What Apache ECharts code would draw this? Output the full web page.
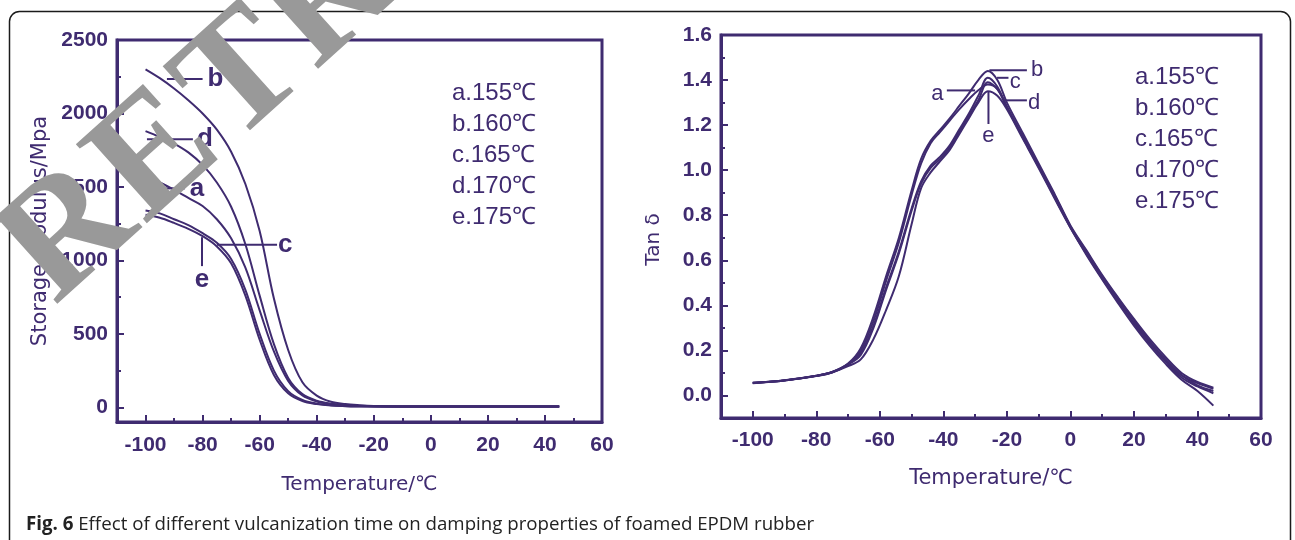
<!DOCTYPE html>
<html lang="en">
<head>
<meta charset="UTF-8">
<title>Fig. 6</title>
<script src="https://cdn.jsdelivr.net/npm/echarts@6/dist/echarts.min.js"></script>
<style>
    html, body { margin: 0; padding: 0; background: #fff; }
    #main { width: 1295px; height: 540px; }
</style>
</head>
<body>
<div id="main"></div>
<script>
    var purple = '#3f2b70';

    // storage modulus (left panel)
    var tempL = [-100, -95, -90, -85, -80, -75, -70, -65, -60, -55, -50, -45, -40, -35, -30, -25, -20, -10, 0, 10, 20, 30, 45];
    var modA = [1560, 1530, 1480, 1425, 1370, 1280, 1150, 950, 660, 380, 180, 80, 40, 22, 13, 9, 7, 5, 5, 5, 5, 5, 5];
    var modB = [2300, 2240, 2170, 2090, 2000, 1890, 1740, 1520, 1200, 740, 390, 170, 80, 38, 22, 14, 9, 6, 5, 5, 5, 5, 5];
    var modC = [1340, 1320, 1280, 1240, 1185, 1120, 1010, 800, 500, 250, 110, 50, 25, 14, 9, 7, 6, 5, 5, 5, 5, 5, 5];
    var modD = [1880, 1840, 1795, 1735, 1650, 1530, 1365, 1110, 760, 430, 200, 90, 45, 25, 15, 10, 7, 5, 5, 5, 5, 5, 5];
    var modE = [1310, 1290, 1255, 1215, 1165, 1095, 980, 760, 460, 220, 95, 42, 22, 12, 8, 6, 5, 5, 5, 5, 5, 5, 5];

    // tan delta (right panel)
    var tempR = [-100, -90, -80, -75, -70, -66, -62, -58, -54, -50, -47, -44, -41, -38, -35, -32, -29, -26, -23, -20, -15, -10, -5, 0, 5, 10, 15, 20, 25, 30, 35, 40, 45];
    var tanA = [0.055, 0.066, 0.087, 0.104, 0.14, 0.20, 0.33, 0.51, 0.68, 0.89, 1.03, 1.12, 1.17, 1.22, 1.27, 1.315, 1.355, 1.38, 1.36, 1.28, 1.15, 1.02, 0.89, 0.75, 0.64, 0.53, 0.43, 0.335, 0.24, 0.16, 0.09, 0.055, 0.03];
    var tanB = [0.056, 0.067, 0.088, 0.105, 0.142, 0.21, 0.35, 0.53, 0.70, 0.91, 1.05, 1.13, 1.18, 1.23, 1.285, 1.34, 1.40, 1.44, 1.40, 1.30, 1.165, 1.03, 0.895, 0.755, 0.645, 0.535, 0.435, 0.34, 0.25, 0.17, 0.10, 0.06, 0.035];
    var tanC = [0.054, 0.066, 0.086, 0.102, 0.138, 0.19, 0.31, 0.48, 0.64, 0.83, 0.95, 1.02, 1.06, 1.11, 1.18, 1.25, 1.33, 1.41, 1.37, 1.28, 1.15, 1.02, 0.885, 0.75, 0.63, 0.52, 0.42, 0.32, 0.23, 0.15, 0.08, 0.04, 0.01];
    var tanD = [0.055, 0.067, 0.087, 0.103, 0.137, 0.18, 0.30, 0.47, 0.63, 0.82, 0.94, 1.01, 1.05, 1.10, 1.17, 1.24, 1.31, 1.39, 1.36, 1.28, 1.145, 1.015, 0.88, 0.745, 0.625, 0.515, 0.41, 0.31, 0.22, 0.14, 0.07, 0.02, -0.045];
    var tanE = [0.056, 0.068, 0.088, 0.103, 0.13, 0.16, 0.25, 0.38, 0.53, 0.76, 0.92, 0.99, 1.04, 1.09, 1.16, 1.23, 1.30, 1.35, 1.33, 1.27, 1.14, 1.01, 0.875, 0.745, 0.63, 0.52, 0.42, 0.325, 0.235, 0.155, 0.09, 0.045, 0.02];

    // ticks
    var xMajor = [-100, -80, -60, -40, -20, 0, 20, 40, 60];
    var xMinor = [-90, -70, -50, -30, -10, 10, 30, 50];
    var modMajor = [0, 500, 1000, 1500, 2000, 2500];
    var modMinor = [250, 750, 1250, 1750, 2250];
    var tanMajor = [0, 0.2, 0.4, 0.6, 0.8, 1.0, 1.2, 1.4, 1.6];
    var tanMinor = [0.1, 0.3, 0.5, 0.7, 0.9, 1.1, 1.3, 1.5];

    var names = ['a', 'b', 'c', 'd', 'e'];
    var legendLabels = ['a.155℃', 'b.160℃', 'c.165℃', 'd.170℃', 'e.175℃'];

    // curve tags: short leader line + letter, in data units
    var tagsL = [
        {t: 'b', from: [-92.5, 2235], to: [-80, 2235], at: [-75.5, 2235]},
        {t: 'd', from: [-99.5, 1825], to: [-83.4, 1825], at: [-79.2, 1825]},
        {t: 'a', from: [-94.9, 1490], to: [-86.2, 1490], at: [-82, 1490]},
        {t: 'c', from: [-75, 1107], to: [-53.9, 1107], at: [-51, 1107]},
        {t: 'e', from: [-80.2, 1158], to: [-80.2, 961], at: [-80.2, 871]}
    ];
    var tagsR = [
        {t: 'b', from: [-25.5, 1.443], to: [-13.7, 1.443], at: [-10.5, 1.443]},
        {t: 'c', from: [-23.1, 1.41], to: [-19.5, 1.41], at: [-17.4, 1.39]},
        {t: 'a', from: [-38.9, 1.354], to: [-30, 1.354], at: [-41.9, 1.34]},
        {t: 'd', from: [-21, 1.31], to: [-13.7, 1.31], at: [-11.4, 1.30]},
        {t: 'e', from: [-25.8, 1.347], to: [-25.8, 1.205], at: [-25.8, 1.15]}
    ];

    var tickFont = {color: purple, fontSize: 21, fontWeight: 'bold', fontFamily: 'Liberation Sans, Arial, sans-serif'};
    var nameFont = {color: purple, fontSize: 20, fontFamily: 'DejaVu Sans, sans-serif'};

    function majorAxis(grid, min, max, ticks, pos, extra) {
        var ax = {
            type: 'value', gridIndex: grid, min: min, max: max, position: pos,
            axisLine: {show: true, onZero: false, lineStyle: {color: purple, width: 3}},
            axisTick: {show: true, inside: true, length: 7, customValues: ticks, lineStyle: {color: purple, width: 2}},
            axisLabel: Object.assign({customValues: ticks}, tickFont),
            splitLine: {show: false}
        };
        return Object.assign(ax, extra);
    }
    function minorAxis(grid, min, max, ticks, pos) {
        return {
            type: 'value', gridIndex: grid, min: min, max: max, position: pos,
            axisLine: {show: false, onZero: false},
            axisTick: {show: true, inside: true, length: 4, customValues: ticks, lineStyle: {color: purple, width: 2}},
            axisLabel: {show: false},
            splitLine: {show: false}
        };
    }
    function pairs(xs, ys) {
        return xs.map(function (x, i) { return [x, ys[i]]; });
    }
    function curve(name, xs, ys, axisIdx) {
        return {
            name: name, type: 'line', xAxisIndex: axisIdx, yAxisIndex: axisIdx,
            data: pairs(xs, ys), showSymbol: false, smooth: 0.35,
            lineStyle: {color: purple, width: 2}, silent: true
        };
    }

    var modSeries = [modA, modB, modC, modD, modE];
    var tanSeries = [tanA, tanB, tanC, tanD, tanE];
    var series = [];
    names.forEach(function (n, i) { series.push(curve(n, tempL, modSeries[i], 0)); });
    names.forEach(function (n, i) { series.push(curve(n, tempR, tanSeries[i], 2)); });

    var myChart = echarts.init(document.getElementById('main'));
    var option = {
        animation: false,
        grid: [
            {left: 117, top: 40, width: 485, height: 382, show: true, borderColor: purple, borderWidth: 3, outerBoundsMode: 'none'},
            {left: 721, top: 35, width: 540, height: 383, show: true, borderColor: purple, borderWidth: 3, outerBoundsMode: 'none'}
        ],
        xAxis: [
            majorAxis(0, -110, 60, xMajor, 'bottom', {
                name: 'Temperature/℃', nameLocation: 'middle', nameGap: 53, nameTextStyle: nameFont,
                axisLabel: Object.assign({customValues: xMajor, margin: 13}, tickFont)
            }),
            minorAxis(0, -110, 60, xMinor, 'bottom'),
            majorAxis(1, -110, 60, xMajor, 'bottom', {
                name: 'Temperature/℃', nameLocation: 'middle', nameGap: 50,
                nameTextStyle: Object.assign({}, nameFont, {fontSize: 21}),
                axisLabel: Object.assign({customValues: xMajor, margin: 12}, tickFont)
            }),
            minorAxis(1, -110, 60, xMinor, 'bottom')
        ],
        yAxis: [
            majorAxis(0, -100, 2500, modMajor, 'left', {
                name: 'Storage modulus/Mpa', nameLocation: 'middle', nameGap: 66,
                nameTextStyle: Object.assign({}, nameFont, {fontSize: 21}),
                axisLabel: Object.assign({customValues: modMajor, margin: 9, formatter: function (v) { return String(v); }}, tickFont)
            }),
            minorAxis(0, -100, 2500, modMinor, 'left'),
            majorAxis(1, -0.1, 1.6, tanMajor, 'left', {
                name: 'Tan δ', nameLocation: 'middle', nameGap: 57,
                nameTextStyle: Object.assign({}, nameFont, {padding: [0, 0, 0, -26]}),
                axisLabel: Object.assign({customValues: tanMajor, margin: 9, formatter: function (v) { return v.toFixed(1); }}, tickFont)
            }),
            minorAxis(1, -0.1, 1.6, tanMinor, 'left')
        ],
        series: series
    };
    myChart.setOption(option);

    // decorations: legend text, curve tags, caption, frame, watermark
    var g = [];
    function toPx(idx, p) { return myChart.convertToPixel({xAxisIndex: idx, yAxisIndex: idx}, p); }
    function addTags(tags, idx, font) {
        tags.forEach(function (tg) {
            var a = toPx(idx, tg.from), b = toPx(idx, tg.to), c = toPx(idx, tg.at);
            g.push({type: 'line', shape: {x1: a[0], y1: a[1], x2: b[0], y2: b[1]}, style: {stroke: purple, lineWidth: 2}, z: 50});
            g.push({type: 'text', x: c[0], y: c[1], style: {text: tg.t, font: font, fill: purple, align: 'center', verticalAlign: 'middle'}, z: 50});
        });
    }
    addTags(tagsL, 0, 'bold 26px "Liberation Sans", Arial, sans-serif');
    addTags(tagsR, 2, '22px "Liberation Sans", Arial, sans-serif');

    legendLabels.forEach(function (s, i) {
        g.push({type: 'text', x: 452, y: 93 + i * 31, style: {text: s, font: '24px "Liberation Sans", Arial, sans-serif', fill: purple, verticalAlign: 'middle'}, z: 50});
        g.push({type: 'text', x: 1135, y: 77 + i * 31.2, style: {text: s, font: '24px "Liberation Sans", Arial, sans-serif', fill: purple, verticalAlign: 'middle'}, z: 50});
    });

    g.push({
        type: 'rect', shape: {x: 9.5, y: 11.5, width: 1281, height: 570, r: 10},
        style: {fill: 'none', stroke: '#1b1b1b', lineWidth: 1.5}, z: 40
    });
    g.push({
        type: 'text', x: 26, y: 525,
        style: {
            text: '{b|Fig. 6} Effect of different vulcanization time on damping properties of foamed EPDM rubber',
            font: '18.7px "Open Sans", "Noto Sans", sans-serif', fill: '#222', verticalAlign: 'middle',
            rich: {b: {fontWeight: 'bold', fontSize: 18.7, fontFamily: 'Open Sans', fill: '#222'}}
        }, z: 50
    });

    // "RETRACTED" stamp, one letter at a time along a rising diagonal
    var stamp = 'RETRACTED';
    var ang = 42 * Math.PI / 180;
    for (var k = 0; k < stamp.length; k++) {
        g.push({
            type: 'text', rotation: ang,
            x: 70 + k * 117 * Math.cos(ang), y: 236 - k * 117 * Math.sin(ang),
            style: {
                text: stamp[k], font: 'bold 162px "Liberation Serif", serif',
                fill: '#999999', align: 'center', verticalAlign: 'middle'
            },
            z: 200
        });
    }
    myChart.setOption({graphic: g});
</script>
</body>
</html>
